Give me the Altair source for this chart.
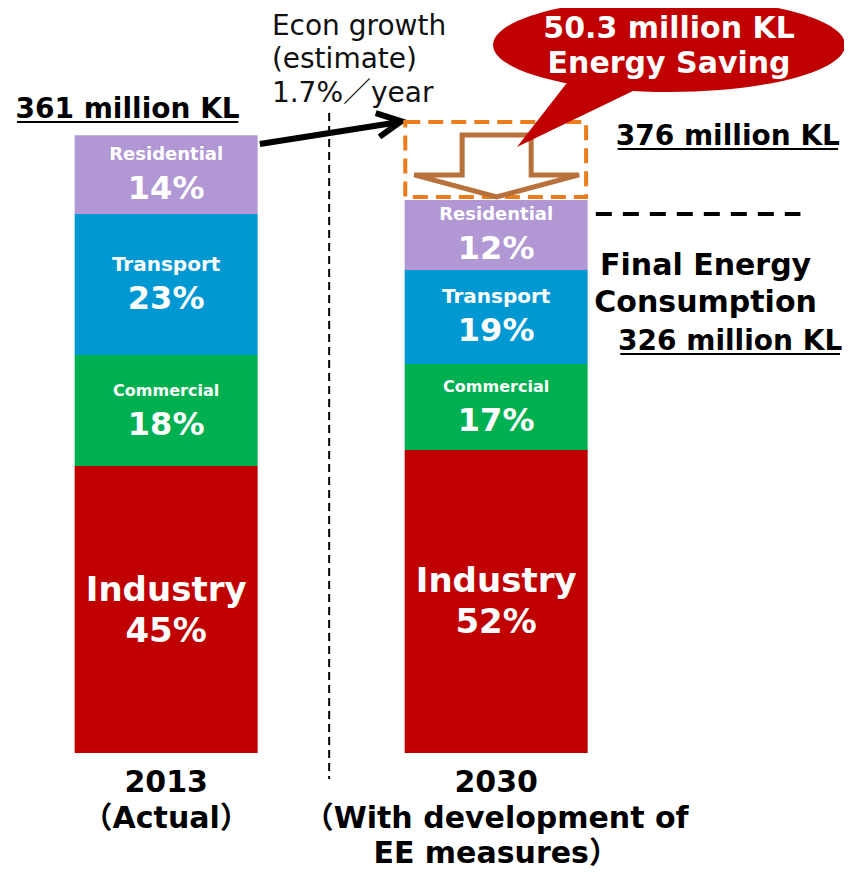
import altair as alt
import pandas as pd

# ---------------- data ----------------
sectors = ["Industry", "Commercial", "Transport", "Residential"]
values_2013 = [167.6, 64.8, 82.4, 46.1]      # million KL, segment heights as drawn
values_2030 = [177.0, 50.2, 54.9, 40.9]
shares_2013 = ["45%", "18%", "23%", "14%"]
shares_2030 = ["52%", "17%", "19%", "12%"]
sector_colors = ["#C00000", "#00B050", "#0098D3", "#B197D3"]
name_sizes = [34, 16, 20, 18]
bar_positions = [0, 1]

year_lines_2013 = ["2013", "（Actual）"]
year_lines_2030 = ["2030", "（With development of", "EE measures）"]
growth_lines = ["Econ growth", "(estimate)", "1.7%／year"]
saving_lines = ["50.3 million KL", "Energy Saving"]
final_lines = ["Final Energy", "Consumption"]
label_2013_total = "361 million KL"
label_target = "376 million KL"
label_final = "326 million KL"

# ---------------- scales ----------------
XDOM = [-0.46407, 2.03892]
YDOM = [-68.93, 435.16]
FONT = "'DejaVu Sans', 'Noto Sans CJK JP', sans-serif"


def X(f="x"):
    return alt.X(f"{f}:Q", scale=alt.Scale(domain=XDOM, nice=False, zero=False), axis=None)


def Y(f="y"):
    return alt.Y(f"{f}:Q", scale=alt.Scale(domain=YDOM, nice=False, zero=False), axis=None)


# ---------------- bar table ----------------
rows = []
for pos, vals, shares in [(bar_positions[0], values_2013, shares_2013),
                          (bar_positions[1], values_2030, shares_2030)]:
    base = 0.0
    for s, v, sh, ns in zip(sectors, vals, shares, name_sizes):
        rows.append(dict(x=pos, sector=s, y0=base, y1=base + v,
                         mid=base + v / 2, share=sh, nsize=ns))
        base += v
bars_df = pd.DataFrame(rows)

bars = alt.Chart(bars_df).mark_bar(size=183).encode(
    x=X(), y=Y("y0"), y2="y1",
    color=alt.Color("sector:N", scale=alt.Scale(domain=sectors, range=sector_colors), legend=None),
)

small = alt.datum.sector != "Industry"
names_small = alt.Chart(bars_df).transform_filter(small).mark_text(
    dy=-20, font=FONT, fontWeight="bold", color="white", baseline="middle"
).encode(x=X(), y=Y("mid"), text="sector:N", size=alt.Size("nsize:Q", scale=None))
pct_small = alt.Chart(bars_df).transform_filter(small).mark_text(
    dy=14, font=FONT, fontWeight="bold", color="white", fontSize=32, baseline="middle"
).encode(x=X(), y=Y("mid"), text="share:N")
names_ind = alt.Chart(bars_df).transform_filter(~small).mark_text(
    dy=-19, font=FONT, fontWeight="bold", color="white", fontSize=34, baseline="middle"
).encode(x=X(), y=Y("mid"), text="sector:N")
pct_ind = alt.Chart(bars_df).transform_filter(~small).mark_text(
    dy=22, font=FONT, fontWeight="bold", color="white", fontSize=34, baseline="middle"
).encode(x=X(), y=Y("mid"), text="share:N")

# ---------------- annotation anchors (data units) ----------------
divider = pd.DataFrame([dict(x=0.494, y=373.8, x2=0.494, y2=-15.2)])
growth_arrow = pd.DataFrame([dict(x=0.284, y=355.7, x2=0.6976, y2=368.3)])
arrow_tip = pd.DataFrame([dict(x=0.7126, y=369.0)])
target_box = pd.DataFrame([dict(x=0.7246, x2=1.2725, y=324.8, y2=368.6)])
final_dash = pd.DataFrame([dict(x=1.302, x2=1.922, y=314.8, y2=314.8)])
saving_arrow = pd.DataFrame([dict(x=1.0015, y=342.9)])
bubble = pd.DataFrame([dict(x=1.524, y=413.6)])
underlines = pd.DataFrame([
    dict(x=-0.4521, x2=0.2186, y=368.6, y2=368.6),
    dict(x=1.3683, x2=2.0359, y=352.8, y2=352.8),
    dict(x=1.3760, x2=2.0420, y=233.1, y2=233.1),
])


def rule(df, **kw):
    return alt.Chart(df).mark_rule(**kw).encode(x=X(), y=Y(), x2="x2:Q", y2="y2:Q")


divider_l = rule(divider, color="black", strokeWidth=2, strokeDash=[8, 5])
arrow_l = rule(growth_arrow, color="black", strokeWidth=6)
tip_l = alt.Chart(arrow_tip).mark_point(
    shape="M -1 -0.5 L 0 0 L -1 0.5", size=2304, filled=False, stroke="black",
    strokeWidth=6, opacity=1, angle=351, strokeJoin="miter"
).encode(x=X(), y=Y())
box_l = alt.Chart(target_box).mark_rect(
    fill=None, stroke="#ED7D1A", strokeWidth=4, strokeDash=[15, 8]
).encode(x=X(), x2="x2:Q", y=Y(), y2="y2:Q")
dash_l = rule(final_dash, color="black", strokeWidth=4, strokeDash=[16, 11])
under_l = rule(underlines, color="black", strokeWidth=2)

down_arrow = alt.Chart(saving_arrow).mark_point(
    shape="M -0.406 -0.365 L 0.406 -0.365 L 0.406 0.106 L 0.97 0.106 L 0 0.365 L -0.97 0.106 L -0.406 0.106 Z",
    size=28900, filled=False, stroke="#B8713A", strokeWidth=5, opacity=1
).encode(x=X(), y=Y())
ellipse = alt.Chart(bubble).mark_point(
    shape="M -1 0 A 1 0.267 0 1 1 1 0 A 1 0.267 0 1 1 -1 0 Z",
    size=123904, filled=True, color="#C00000", opacity=1, strokeWidth=0
).encode(x=X(), y=Y())
tail = alt.Chart(bubble).mark_point(
    shape="M -0.56 0.19 L -0.17 0.245 L -0.864 0.58 Z",
    size=123904, filled=True, color="#C00000", opacity=1, strokeWidth=0
).encode(x=X(), y=Y())


def texts(lines, xs, ys, **kw):
    df = pd.DataFrame(dict(x=xs, y=ys, t=lines))
    return alt.Chart(df).mark_text(font=FONT, baseline="alphabetic", **kw).encode(
        x=X(), y=Y(), text="t:N")


saving_t = texts(saving_lines, [1.524] * 2, [417.6, 397.2],
                 fontSize=30, fontWeight="bold", color="white", align="center")
growth_t = texts(growth_lines, [0.3204] * 3, [419.4, 400.1, 380.3],
                 fontSize=28, fontWeight="normal", color="#111111", align="left")
total_t = texts([label_2013_total, label_target, label_final],
                [-0.1168, 1.7021, 1.7090], [370.9, 355.1, 235.4],
                fontSize=28, fontWeight="bold", color="black", align="center")
final_t = texts(final_lines, [1.6347] * 2, [279.2, 257.6],
                fontSize=30, fontWeight="bold", color="black", align="center")
year13_t = texts(year_lines_2013, [bar_positions[0]] * 2, [-22.8, -43.8],
                 fontSize=30, fontWeight="bold", color="black", align="center")
year30_t = texts(year_lines_2030, [bar_positions[1]] * 3, [-22.8, -43.8, -64.3],
                 fontSize=30, fontWeight="bold", color="black", align="center")

chart = alt.layer(
    bars, names_small, pct_small, names_ind, pct_ind,
    divider_l, arrow_l, tip_l, box_l, dash_l, under_l,
    down_arrow, ellipse, tail, saving_t, growth_t, total_t, final_t,
    year13_t, year30_t,
).properties(
    width=836, height=863, padding=0, autosize=alt.AutoSizeParams(type="none")
).configure_view(stroke=None)

chart.save("out.html", embed_options={"renderer": "svg", "actions": False})
